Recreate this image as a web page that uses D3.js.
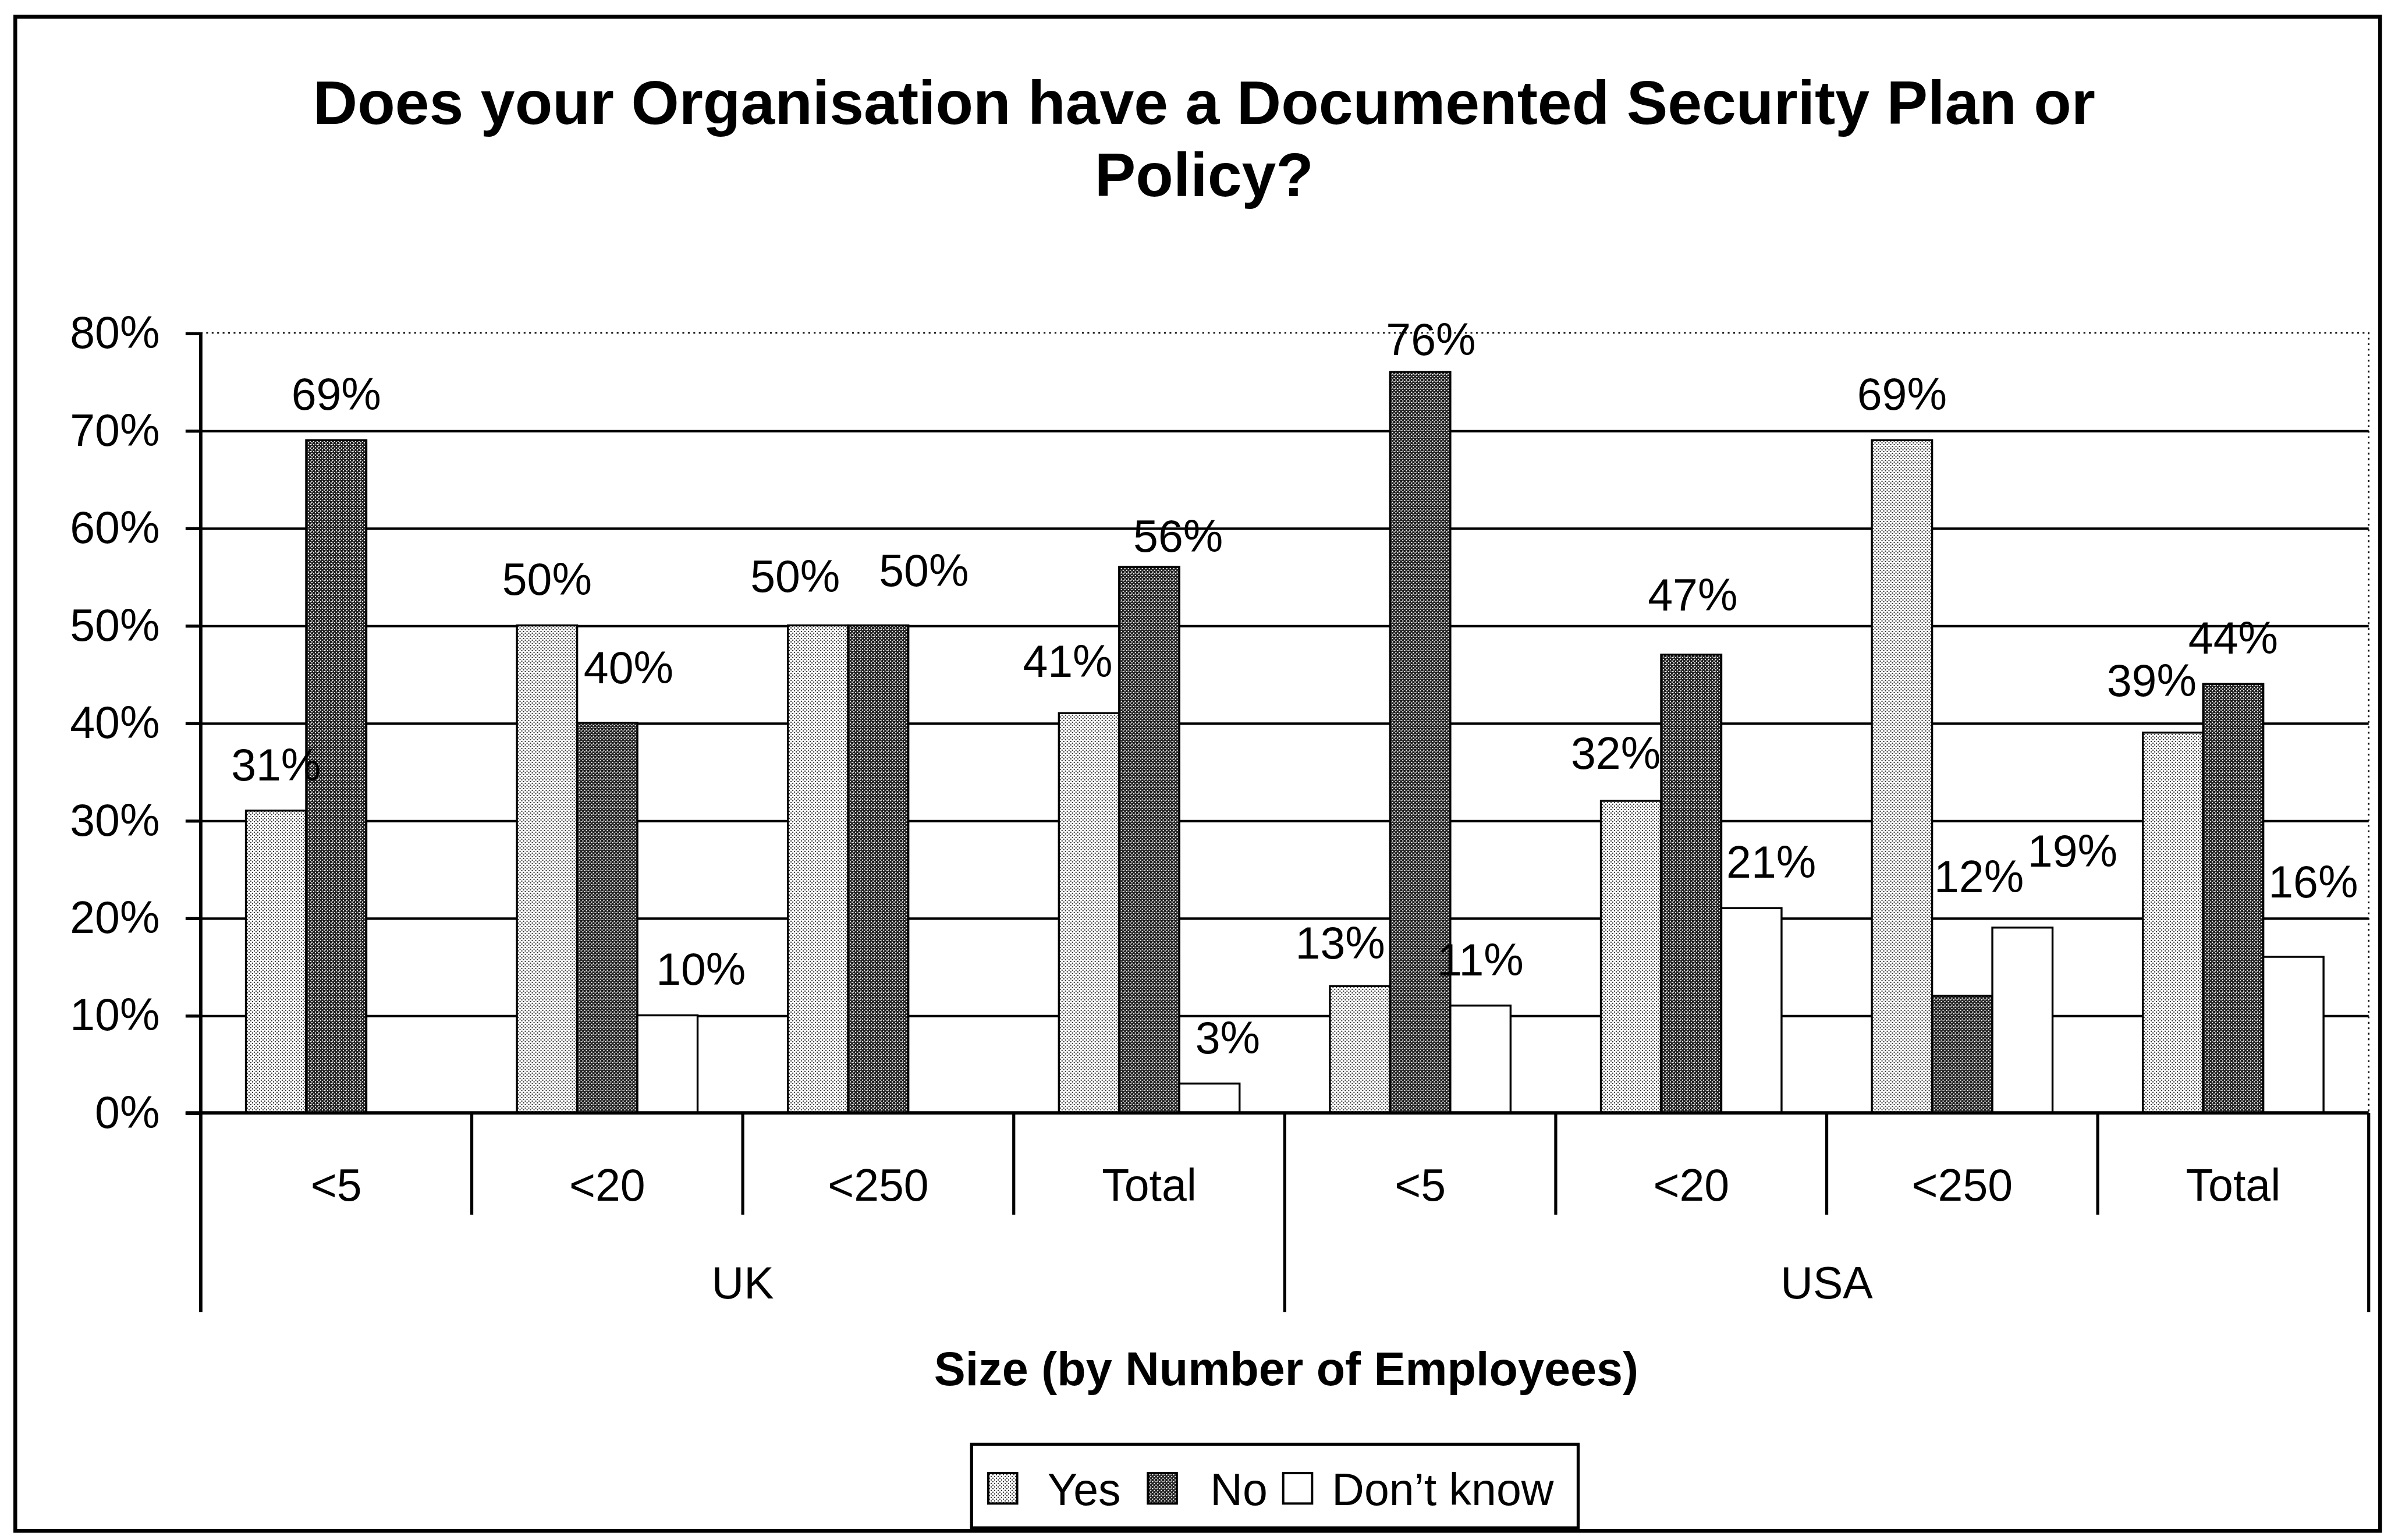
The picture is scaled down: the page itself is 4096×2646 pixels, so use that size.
<!DOCTYPE html>
<html>
<head>
<meta charset="utf-8">
<script src="https://cdn.jsdelivr.net/npm/d3@7"></script>
<style>
  html, body { margin: 0; padding: 0; background: #ffffff; }
  svg { display: block; }
</style>
</head>
<body>
<svg id="chart"></svg>
<script>
// Survey: share of organisations with a documented security plan (percent)
const regions = ["UK", "USA"];
const sizeBands = ["<5", "<20", "<250", "Total"];
const seriesNames = ["Yes", "No", "Don\u2019t know"];
const yesValues = [31, 50, 50, 41, 13, 32, 69, 39];
const noValues = [69, 40, 50, 56, 76, 47, 12, 44];
const dontKnowValues = [0, 10, 0, 3, 11, 21, 19, 16];
const yTickValues = [0, 10, 20, 30, 40, 50, 60, 70, 80];

const titleLines = ["Does your Organisation have a Documented Security Plan or", "Policy?"];
const xAxisTitle = "Size (by Number of Employees)";

// ---- layout (drawing units; the viewBox maps them onto the page) ----
const W = 1568, H = 1013;
const PX = 4096 / W;                 // screen pixels per drawing unit
const plot = { left: 132, right: 1558, top: 219, bottom: 732 };
const FONT = "'Liberation Sans', Arial, Helvetica, sans-serif";
const fs = 29.5;

// per-label [dx, dy] shifts so neighbouring value labels do not collide
const labelShift = [
  [[0, 20], [0, 20], [0, 20]],
  [[0, 20], [14, 26], [22, 20]],
  [[-15, 22], [30, 26], [0, 20]],
  [[-14, 24], [19, 10], [12, 20]],
  [[-13, 18], [7, 11], [0, 20]],
  [[-10, 21], [1, 29], [13, 20]],
  [[0, 20], [11, 68], [33, 40]],
  [[-14, 24], [0, 20], [13, 39]]
];

const categories = regions.flatMap(r => sizeBands.map(s => ({ region: r, size: s, key: r + " " + s })));
const rows = categories.map((c, i) => ({
  ...c,
  index: i,
  values: [yesValues[i], noValues[i], dontKnowValues[i]]
}));

const svg = d3.select("#chart")
  .attr("width", 4096).attr("height", 2646)
  .attr("viewBox", `0 0 ${W} ${H}`)
  .style("font-family", FONT);

svg.append("rect").attr("width", W).attr("height", H).attr("fill", "#fff");

// ---- fill textures ----
const defs = svg.append("defs");
function texture(id, bg, fg, dots) {
  const p = defs.append("pattern")
    .attr("id", id)
    .attr("patternUnits", "userSpaceOnUse")
    .attr("width", 6).attr("height", 6)
    .attr("patternTransform", `scale(${1 / PX})`);
  p.append("rect").attr("width", 6).attr("height", 6).attr("fill", bg);
  dots.forEach(([x, y, s]) => p.append("rect").attr("x", x).attr("y", y)
    .attr("width", s).attr("height", s).attr("fill", fg));
}
texture("fillYes", "#ffffff", "#2a2a2a", [[1, 1, 2], [4, 4, 2]]);
texture("fillNo", "#1c1c1c", "#ffffff", [[1, 1, 2], [4, 4, 2], [4, 1, 1]]);
const fills = ["url(#fillYes)", "url(#fillNo)", "#ffffff"];

// ---- scales ----
const x0 = d3.scaleBand()
  .domain(categories.map(d => d.key))
  .range([plot.left, plot.right])
  .paddingInner(0).paddingOuter(0);
const x1 = d3.scaleBand()
  .domain(seriesNames)
  .range([0, x0.bandwidth()])
  .paddingInner(0).paddingOuter(0.75);
const y = d3.scaleLinear().domain([0, 80]).range([plot.bottom, plot.top]);

// ---- outer frame ----
svg.append("rect")
  .attr("x", 10).attr("y", 11)
  .attr("width", 1555.5).attr("height", 996)
  .attr("fill", "none").attr("stroke", "#000").attr("stroke-width", 2.5);

// ---- title ----
svg.append("text")
  .attr("x", 792).attr("text-anchor", "middle")
  .attr("font-size", 40.5).attr("font-weight", "bold").attr("fill", "#000")
  .selectAll("tspan").data(titleLines).join("tspan")
  .attr("x", 792)
  .attr("y", (d, i) => 81.5 + i * 47.5)
  .text(d => d);

// ---- gridlines ----
const grid = svg.append("g")
  .attr("transform", `translate(${plot.left},0)`)
  .call(d3.axisLeft(y).tickValues(yTickValues.filter(v => v > 0 && v < 80))
    .tickSize(-(plot.right - plot.left)).tickFormat(""));
grid.select(".domain").remove();
grid.selectAll(".tick line").attr("stroke", "#000").attr("stroke-width", 1.6);

// dotted top and right edges of the plot area
svg.append("path")
  .attr("d", `M${plot.left},${y(80)}H${plot.right}V${plot.bottom}`)
  .attr("fill", "none").attr("stroke", "#000")
  .attr("stroke-width", 1).attr("stroke-dasharray", "1.2,2.4");

// ---- bars ----
const catG = svg.append("g").selectAll("g").data(rows).join("g")
  .attr("transform", d => `translate(${x0(d.key)},0)`);

catG.selectAll("rect")
  .data(d => d.values.map((v, j) => ({ v, s: seriesNames[j], j })).filter(e => e.v > 0))
  .join("rect")
  .attr("x", e => x1(e.s))
  .attr("y", e => y(e.v))
  .attr("width", x1.bandwidth())
  .attr("height", e => y(0) - y(e.v))
  .attr("fill", e => fills[e.j])
  .attr("stroke", "#000").attr("stroke-width", 1.3);

// ---- value labels ----
catG.selectAll("text")
  .data(d => d.values.map((v, j) => ({ v, s: seriesNames[j], j, i: d.index })).filter(e => e.v > 0))
  .join("text")
  .attr("x", e => x1(e.s) + x1.bandwidth() / 2 + labelShift[e.i][e.j][0])
  .attr("y", e => y(e.v) - labelShift[e.i][e.j][1])
  .attr("text-anchor", "middle")
  .attr("font-size", fs).attr("fill", "#000")
  .text(e => e.v + "%");

// ---- value axis ----
const yAxis = svg.append("g")
  .attr("transform", `translate(${plot.left},0)`)
  .call(d3.axisLeft(y).tickValues(yTickValues).tickSize(10).tickPadding(17)
    .tickFormat(d => d + "%"));
yAxis.select(".domain").remove();
yAxis.selectAll(".tick line").attr("stroke", "#000").attr("stroke-width", 2);
yAxis.selectAll("text").attr("font-size", fs).attr("font-family", FONT).attr("fill", "#000");

const groupDrop = 131, catDrop = 67;
svg.append("line")
  .attr("x1", plot.left).attr("x2", plot.left)
  .attr("y1", y(80)).attr("y2", plot.bottom + groupDrop)
  .attr("stroke", "#000").attr("stroke-width", 2.2);

// ---- category axis ----
svg.append("line")
  .attr("x1", plot.left - 10).attr("x2", plot.right)
  .attr("y1", plot.bottom).attr("y2", plot.bottom)
  .attr("stroke", "#000").attr("stroke-width", 2.2);

const boundaries = categories.map(d => x0(d.key)).concat([plot.right]);
svg.append("g").selectAll("line").data(boundaries.slice(1)).join("line")
  .attr("x1", d => d).attr("x2", d => d)
  .attr("y1", plot.bottom)
  .attr("y2", (d, i) => plot.bottom + (((i + 1) % sizeBands.length === 0) ? groupDrop : catDrop))
  .attr("stroke", "#000").attr("stroke-width", 2);

const xAxis = svg.append("g")
  .attr("transform", `translate(0,${plot.bottom})`)
  .call(d3.axisBottom(x0).tickSize(0).tickPadding(37)
    .tickFormat(k => categories.find(c => c.key === k).size));
xAxis.select(".domain").remove();
xAxis.selectAll("text").attr("font-size", fs).attr("font-family", FONT).attr("fill", "#000");

// region names under their size bands
svg.append("g").selectAll("text").data(regions).join("text")
  .attr("x", r => {
    const keys = categories.filter(c => c.region === r).map(c => c.key);
    return (x0(keys[0]) + x0(keys[keys.length - 1]) + x0.bandwidth()) / 2;
  })
  .attr("y", plot.bottom + 122)
  .attr("text-anchor", "middle")
  .attr("font-size", fs).attr("fill", "#000")
  .text(r => r);

// axis title
svg.append("text")
  .attr("x", 846).attr("y", 911)
  .attr("text-anchor", "middle")
  .attr("font-size", 31).attr("font-weight", "bold").attr("fill", "#000")
  .text(xAxisTitle);

// ---- legend ----
const legend = svg.append("g");
legend.append("rect")
  .attr("x", 639).attr("y", 950).attr("width", 399).attr("height", 55)
  .attr("fill", "#fff").attr("stroke", "#000").attr("stroke-width", 2);
const legendX = [650, 755, 844];
const legendItems = legend.selectAll("g.item").data(seriesNames).join("g")
  .attr("class", "item")
  .attr("transform", (d, i) => `translate(${legendX[i]},0)`);
legendItems.append("rect")
  .attr("x", 0).attr("y", 969).attr("width", 19).attr("height", 20)
  .attr("fill", (d, i) => fills[i])
  .attr("stroke", "#000").attr("stroke-width", 1.5);
legendItems.append("text")
  .attr("x", (d, i) => [39, 41, 32][i]).attr("y", 990)
  .attr("font-size", fs).attr("fill", "#000")
  .text(d => d);
</script>
</body>
</html>
